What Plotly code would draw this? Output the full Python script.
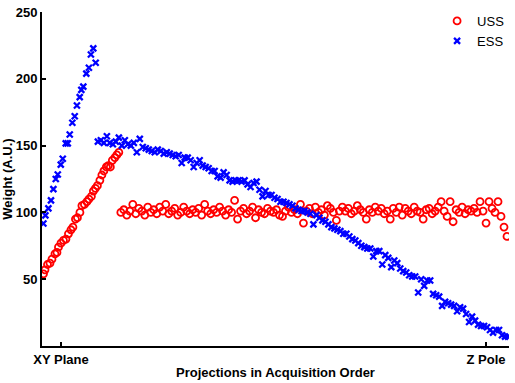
import plotly.graph_objects as go

# ---------------- data (x = projection index, y = weight in A.U.) ----------------
# ESS: rising part near the XY plane
ess_rise_x = [0.7, 1.7, 3.2, 4.5, 5.7, 6.9, 7.9, 9.4, 10.4, 11.9, 12.9, 13.9,
              15.2, 16.4, 17.5, 18.9, 19.7, 20.7, 22.2, 23.5, 24.5, 25.7, 26.9]
ess_rise_y = [91.7, 97.8, 103, 109, 117.4, 125, 128.4, 135.8, 140.2, 151.7, 151.7, 158.3,
              167.1, 172, 180, 186.3, 191.7, 194.1, 203.9, 208.3, 218.2, 222.8, 212]

# ESS: long descending part (one value every 1.5 projections from index 28)
ess_fall_start = 28.0
ess_fall_step = 1.5
ess_fall_y = [
    153, 154, 152, 157, 152, 151, 153, 156, 150, 154,
    151, 150, 152, 145, 155, 149, 148, 147, 146, 145,
    147, 146, 144, 145, 144, 143, 142, 143, 137, 141,
    141, 139, 134, 137, 139, 135, 134, 133, 131, 131,
    127, 126, 130, 128, 124, 123, 124, 124, 123, 124,
    121, 119, 122, 123, 117, 112, 116, 113, 113, 111,
    110, 108, 108, 107, 106, 105, 103, 102, 101, 101,
    100, 99, 91, 98, 96, 94, 93, 91, 89, 88,
    87, 86, 84, 84, 82, 80, 79, 77, 75, 74,
    73, 73, 67, 71, 71, 61, 68, 66, 59, 64,
    62, 58, 56, 55, 53, 52, 52, 40, 50, 45,
    49, 49, 39, 38, 37, 30, 33, 32, 31, 30,
    26, 29, 28, 24, 18, 22, 19, 16, 15, 15,
    14, 12, 10, 12, 12, 8, 7, 7]

# USS: rising part near the XY plane
uss_rise_x = [0.75, 1.5, 2.75, 4, 5, 6.5, 7.5, 8.25, 9.5, 10.75, 12, 13.25,
              14.5, 15.5, 16.75, 17.75, 19, 20, 21.25, 22.5, 23.5, 24.75,
              25.75, 26.75, 27.75, 29, 30, 31, 32.25, 33.25, 34.25, 35.25,
              36.5, 37.5, 38.5]
uss_rise_y = [54, 57, 61, 62, 65, 69, 70, 74, 77, 79, 80, 84,
              87, 89, 95, 96, 100, 105, 106, 108, 110, 112,
              116, 118, 120, 124, 128, 131, 134, 135, 134, 139,
              141, 143, 145]

# USS: flat part (one value every 1.5 projections from index 39.5)
uss_flat_start = 39.5
uss_flat_step = 1.5
uss_flat_y = [
    100, 102, 98, 101, 106, 99, 103, 101, 98, 104,
    100, 102, 99, 104, 101, 106, 99, 101, 103, 98,
    100, 104, 101, 99, 102, 100, 103, 98, 106, 101,
    99, 102, 100, 104, 101, 98, 102, 100, 109, 95,
    101, 103, 99, 101, 104, 96, 102, 100, 99, 103,
    101, 100, 102, 98, 97, 101, 104, 100, 102, 99,
    106, 92, 101, 103, 99, 104, 100, 102, 98, 105,
    103, 100, 94, 101, 104, 101, 103, 99, 101, 105,
    102, 100, 95, 102, 100, 104, 101, 103, 99, 101,
    95, 103, 100, 104, 98, 103, 101, 99, 104, 101,
    100, 95, 102, 103, 99, 101, 104, 108, 101, 97,
    108, 93, 102, 100, 104, 99, 102, 101, 103, 100,
    108, 101, 92, 108, 103, 100, 108, 97, 89, 82]

x_tick_vals = [9.5, 222.5]
x_tick_text = ["XY Plane", "Z Pole"]
y_tick_vals = [50, 100, 150, 200, 250]
x_range = [0, 234]
y_range = [0, 250]

# ---------------- assemble series ----------------
ess_x = ess_rise_x + [ess_fall_start + ess_fall_step * i for i in range(len(ess_fall_y))]
ess_y = ess_rise_y + ess_fall_y
uss_x = uss_rise_x + [uss_flat_start + uss_flat_step * i for i in range(len(uss_flat_y))]
uss_y = uss_rise_y + uss_flat_y

FONT = "Liberation Sans, Arial, Helvetica, sans-serif"

fig = go.Figure()
fig.add_trace(go.Scatter(
    x=uss_x, y=uss_y, mode="markers", name="USS",
    marker=dict(symbol="circle-open", size=7, color="#FF0000",
                line=dict(width=1.8, color="#FF0000"))))
fig.add_trace(go.Scatter(
    x=ess_x, y=ess_y, mode="markers", name="ESS",
    marker=dict(symbol="x-thin-open", size=6, color="#0000FF",
                line=dict(width=2.3, color="#0000FF"))))

fig.update_layout(
    width=515, height=383,
    margin=dict(l=42, r=5, t=9, b=34),
    paper_bgcolor="white", plot_bgcolor="white",
    font=dict(family=FONT, size=13, color="black"),
    showlegend=True,
    legend=dict(x=0.846, y=1.018, xanchor="left", yanchor="top",
                bgcolor="rgba(0,0,0,0)", borderwidth=0,
                font=dict(family=FONT, size=13, color="black"),
                tracegroupgap=0),
    xaxis=dict(range=x_range, showgrid=False, zeroline=False,
               showline=True, linecolor="black", linewidth=2, mirror=False,
               ticks="inside", ticklen=4, tickwidth=1.5, tickcolor="black",
               tickvals=x_tick_vals, ticktext=x_tick_text,
               tickfont=dict(family=FONT, size=13, color="black", weight="bold"),
               title=dict(text="Projections in Acquisition Order", standoff=2,
                          font=dict(family=FONT, size=13, color="black", weight="bold"))),
    yaxis=dict(range=y_range, showgrid=False, zeroline=False,
               showline=True, linecolor="black", linewidth=2, mirror=False,
               ticks="inside", ticklen=4, tickwidth=1.5, tickcolor="black",
               tickvals=y_tick_vals,
               tickfont=dict(family=FONT, size=13, color="black", weight="bold"),
               title=dict(text="Weight (A.U.)", standoff=2,
                          font=dict(family=FONT, size=13, color="black", weight="bold"))),
)

fig.write_html("out.html", config={"displayModeBar": False},
               post_script="document.body.style.margin='0px';")
